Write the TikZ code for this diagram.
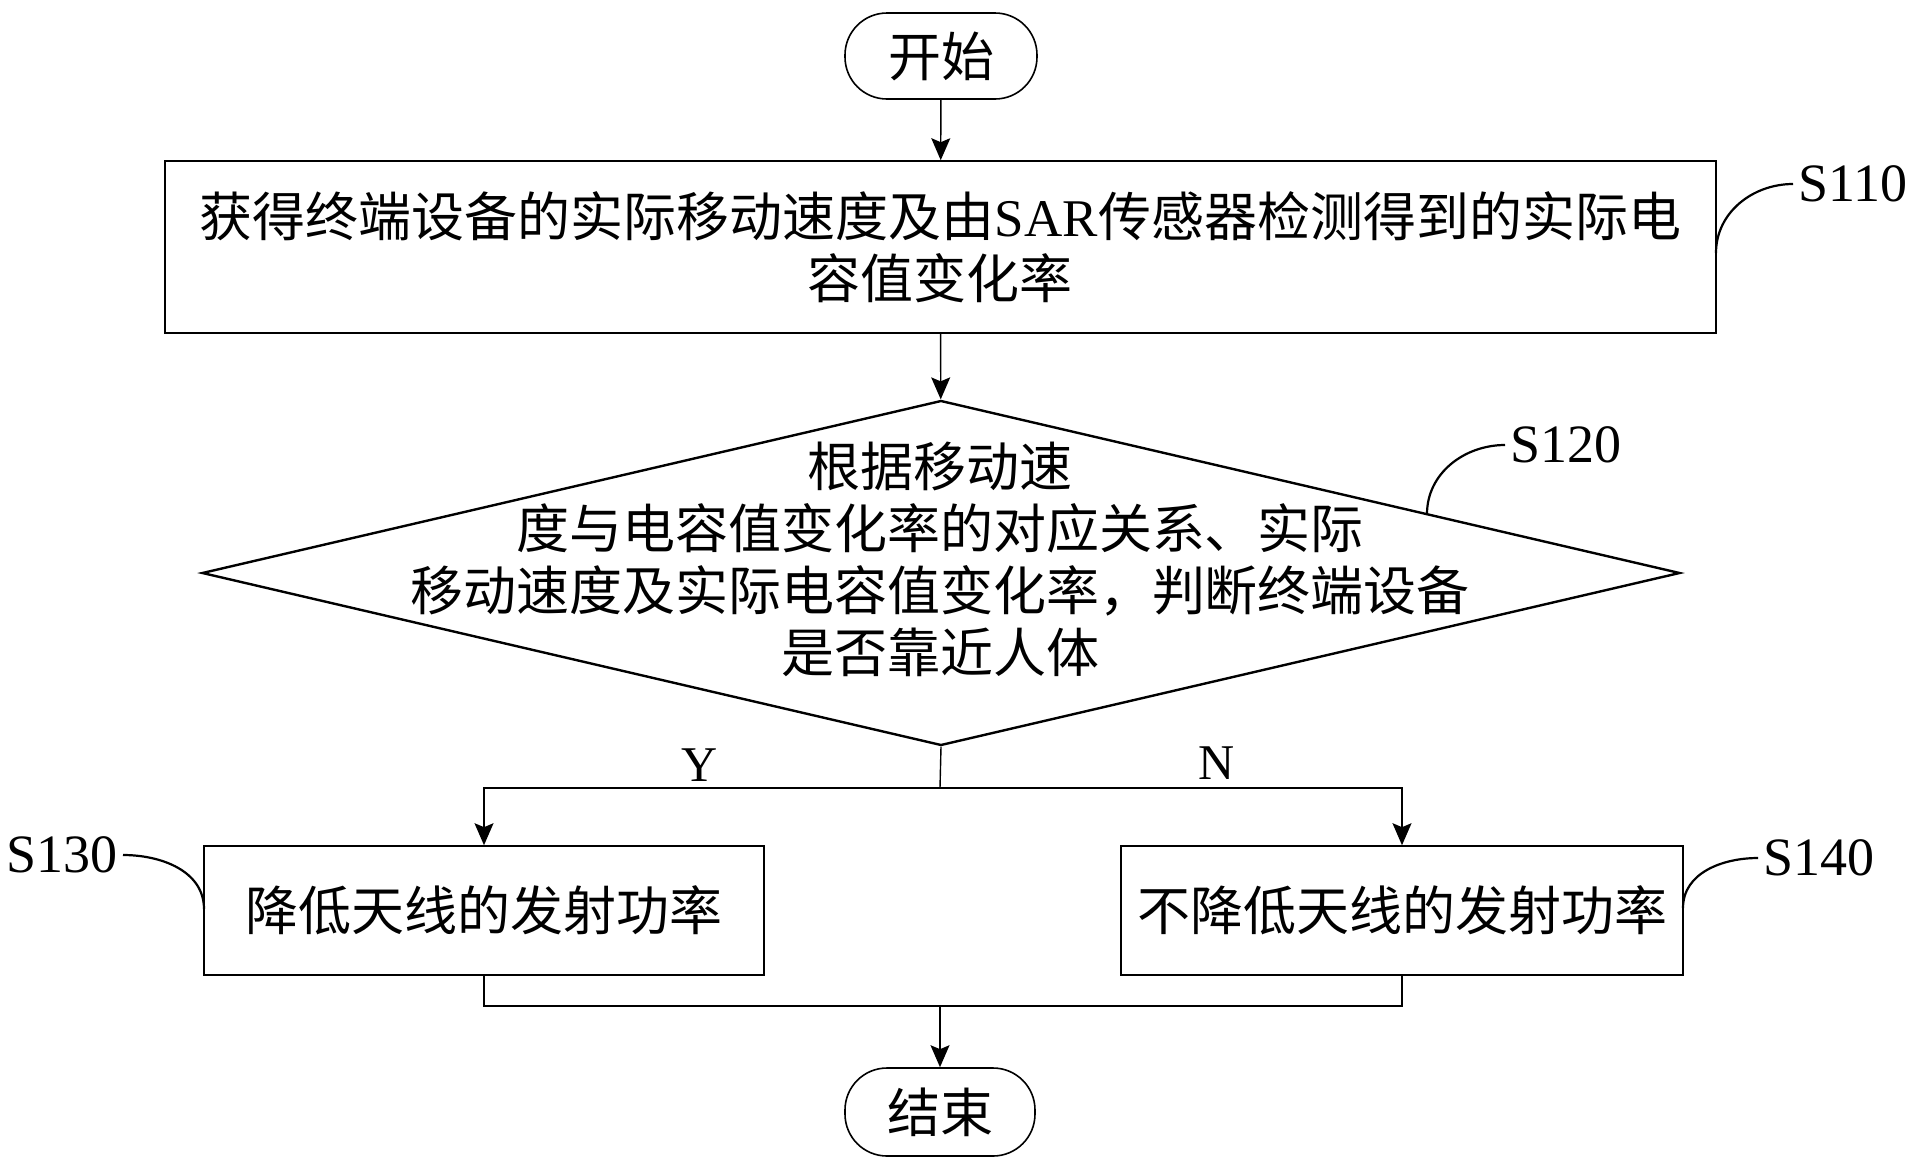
\documentclass[tikz,border=0pt]{standalone}
\usepackage{fontspec}
\setmainfont{Liberation Serif}
\newfontfamily\cjk{Noto Sans CJK SC}
\usetikzlibrary{shapes.geometric,arrows.meta}
\begin{document}
\begin{tikzpicture}[x=0.5pt,y=-0.5pt,
  box/.style={draw,line width=0.8pt,inner sep=0pt,align=center},
  term/.style={draw,line width=0.8pt,rounded corners=21pt,inner sep=0pt,minimum width=96pt,minimum height=43pt},
  cn/.style={font=\cjk\fontsize{26.5pt}{31pt}\selectfont},
  lab/.style={font=\fontsize{27pt}{30pt}\selectfont,inner sep=2.5pt},
  yn/.style={font=\fontsize{25pt}{27pt}\selectfont,inner sep=0pt},
  conn/.style={line width=0.7pt},
  arr/.style={conn,-{Stealth[length=11pt,width=9.5pt,inset=2pt]}},
  lead/.style={line width=1.1pt}]
\useasboundingbox (0,0) rectangle (1919,1174);
% nodes
\node[term,cn] (start) at (941,56) {开始};
\node[box,cn,minimum width=775.5pt,minimum height=86pt] (b110) at (940.5,247)
  {获得终端设备的实际移动速度及由{\rmfamily SAR}传感器检测得到的实际电\\容值变化率};
\node[draw,diamond,line width=1.2pt,minimum width=739pt,minimum height=172.5pt,inner sep=0pt] (dia) at (941,573) {};
\node[cn,align=center,inner sep=0pt] (dtext) at (940,559)
  {根据移动速\\度与电容值变化率的对应关系、实际\\移动速度及实际电容值变化率，判断终端设备\\是否靠近人体};
\node[box,cn,minimum width=280pt,minimum height=64.5pt] (b130) at (484,910.5) {降低天线的发射功率};
\node[box,cn,minimum width=281pt,minimum height=64.5pt] (b140) at (1402,910.5) {不降低天线的发射功率};
\node[term,cn,minimum width=95pt,minimum height=44pt] (end) at (940,1112) {结束};
% connectors
\draw[arr] (start) -- (b110);
\draw[arr] (b110) -- (dia);
\coordinate (split) at (940,788);
\draw[conn] (dia.south) -- (split);
\draw[arr] (split) -| (b130.north);
\draw[arr] (split) -| (b140.north);
\coordinate (merge) at (940,1006);
\draw[conn] (b130.south) |- (merge);
\draw[conn] (b140.south) |- (merge);
\draw[arr] (merge) -- (end);
\node[yn] (ylab) at (700,765) {Y};
\node[yn] (nlab) at (1217,763) {N};
% step labels
\node[lab,anchor=west] (l110) at (1793,184) {S110};
\coordinate (c110) at (1716,253);
\draw[lead] (c110) to[out=90,in=180] (l110.west);
\node[lab,anchor=west] (l120) at (1505,445) {S120};
\coordinate (c120) at (1427,514);
\draw[lead] (c120) to[out=90,in=180] (l120.west);
\node[lab,anchor=east] (l130) at (123,855) {S130};
\coordinate (c130) at (204,909);
\draw[lead] (l130.east) to[out=0,in=90] (c130);
\node[lab,anchor=west] (l140) at (1758,858) {S140};
\coordinate (c140) at (1683,908);
\draw[lead] (c140) to[out=90,in=180] (l140.west);
\end{tikzpicture}
\end{document}
